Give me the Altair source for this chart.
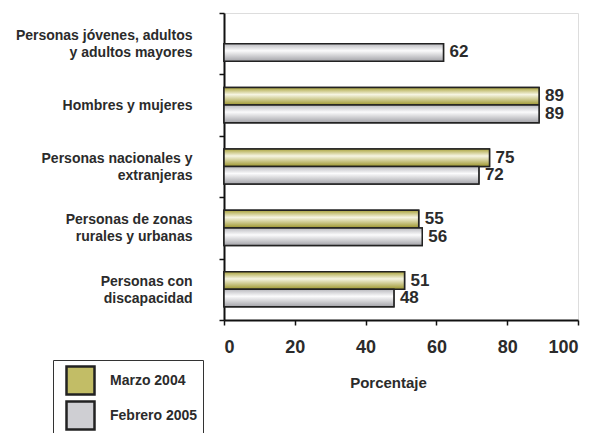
import altair as alt
import pandas as pd

categorias = [
    "Personas jóvenes, adultos\ny adultos mayores",
    "Hombres y mujeres",
    "Personas nacionales y\nextranjeras",
    "Personas de zonas\nrurales y urbanas",
    "Personas con\ndiscapacidad",
]
series = ["Marzo 2004", "Febrero 2005"]
marzo_2004 = [None, 89, 75, 55, 51]
febrero_2005 = [62, 89, 72, 56, 48]

rows = []
for cat, m, f in zip(categorias, marzo_2004, febrero_2005):
    if m is not None:
        rows.append({"categoria": cat, "serie": series[0], "valor": m})
    if f is not None:
        rows.append({"categoria": cat, "serie": series[1], "valor": f})
df = pd.DataFrame(rows)

FONT = "Arial, Liberation Sans, sans-serif"
TXT = "#2b2b2b"

gold_grad = alt.Gradient(
    gradient="linear", x1=0, y1=0, x2=0, y2=1,
    stops=[
        alt.GradientStop(offset=0, color="#aaa33c"),
        alt.GradientStop(offset=0.4, color="#f6f5e2"),
        alt.GradientStop(offset=1, color="#9c952c"),
    ],
)
gray_grad = alt.Gradient(
    gradient="linear", x1=0, y1=0, x2=0, y2=1,
    stops=[
        alt.GradientStop(offset=0, color="#b9b9be"),
        alt.GradientStop(offset=0.4, color="#fbfbfc"),
        alt.GradientStop(offset=1, color="#a3a3a8"),
    ],
)

single_line = categorias[1]

y_enc = alt.Y(
    "categoria:N",
    sort=categorias,
    scale=alt.Scale(paddingInner=0, paddingOuter=0),
    axis=alt.Axis(
        title=None,
        labelExpr="split(datum.label, '\\n')",
        labelFont=FONT, labelFontSize=14, labelFontWeight="bold", labelColor=TXT,
        labelLineHeight=17, labelPadding=27, labelLimit=300,
        labelOffset={"condition": {"test": f"datum.value == '{single_line}'", "value": 0}, "value": -8},
        domainColor="#111", domainWidth=2,
        tickColor="#111", tickWidth=1.5, tickSize=5, tickBand="extent",
    ),
)
yoff_enc = alt.YOffset(
    "serie:N", sort=series,
    scale=alt.Scale(paddingInner=0, paddingOuter=0.75),
)
x_enc = alt.X(
    "valor:Q",
    scale=alt.Scale(domain=[0, 100], nice=False),
    axis=alt.Axis(
        title="Porcentaje", values=[0, 20, 40, 60, 80, 100], grid=False,
        labelFont=FONT, labelFontSize=18, labelFontWeight="bold", labelColor=TXT,
        labelPadding=13, titleFont=FONT, titleFontSize=15, titleFontWeight="bold",
        titleColor=TXT, titlePadding=19, titleX=164, titleAnchor="middle",
        domainColor="#111", domainWidth=2,
        tickColor="#111", tickWidth=1.5, tickSize=5,
    ),
)

base = alt.Chart(df)

legend_bars = base.mark_bar(stroke="#222", strokeWidth=1.5).encode(
    y=y_enc, yOffset=yoff_enc, x=x_enc,
    color=alt.Color(
        "serie:N", sort=series,
        scale=alt.Scale(domain=series, range=["#c2bd66", "#cfcfd3"]),
        legend=alt.Legend(
            title=None, orient="none", legendX=-171, legendY=347,
            strokeColor="#333", padding=5, symbolOffset=7,
            symbolType="square", symbolSize=784, symbolStrokeColor="#222",
            symbolStrokeWidth=2.5, symbolOpacity=1,
            labelFont=FONT, labelFontSize=14, labelFontWeight="bold",
            labelColor=TXT, labelOffset=14, rowPadding=-4, labelLimit=200,
            labelExpr="datum.label + '        '",
        ),
    ),
)

grad_bars = base.mark_bar(stroke="#222", strokeWidth=1.5).encode(
    y=y_enc, yOffset=yoff_enc, x=x_enc,
    color=alt.condition(
        alt.datum.serie == series[0], alt.value(gold_grad), alt.value(gray_grad)
    ),
)

labels = base.mark_text(
    align="left", baseline="middle", dx=6, font=FONT, fontSize=17,
    fontWeight="bold", color=TXT,
).encode(
    y=y_enc, yOffset=yoff_enc, x=x_enc, text="valor:Q",
)

chart = (
    alt.layer(legend_bars, grad_bars, labels)
    .properties(
        width=354, height=307,
        autosize=alt.AutoSizeParams(type="none"),
        padding={"left": 216, "top": 5, "right": 12, "bottom": 120},
    )
    .configure_view(stroke=None)
    .configure(background="white")
)

chart.save("out.html", embed_options={"renderer": "svg", "actions": False})
